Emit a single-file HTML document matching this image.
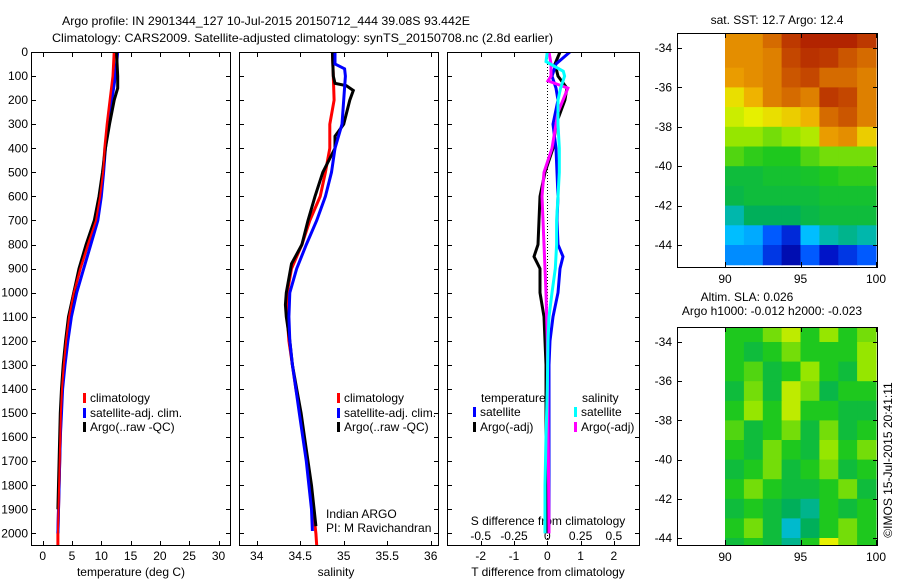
<!DOCTYPE html>
<html><head><meta charset="utf-8"><style>
body{margin:0;background:#fff;width:900px;height:580px;overflow:hidden}
svg text{font-family:"Liberation Sans",sans-serif;font-size:12px;fill:#000}
</style></head><body>
<svg id="fig" width="900" height="580" viewBox="0 0 900 580" xmlns="http://www.w3.org/2000/svg">
<defs>
<clipPath id="c1"><rect x="31" y="52" width="200" height="494"/></clipPath>
<clipPath id="c2"><rect x="239" y="52" width="200" height="494"/></clipPath>
<clipPath id="c3"><rect x="447" y="52" width="193" height="494"/></clipPath>
<clipPath id="cm1"><rect x="677" y="33" width="201" height="234"/></clipPath>
<clipPath id="cm2"><rect x="677" y="327" width="201" height="218"/></clipPath>
</defs>
<text x="62" y="25" font-size="13.5" textLength="408" lengthAdjust="spacingAndGlyphs">Argo profile: IN 2901344_127 10-Jul-2015 20150712_444 39.08S 93.442E</text>
<text x="52" y="42" font-size="13.5" textLength="501" lengthAdjust="spacingAndGlyphs">Climatology: CARS2009. Satellite-adjusted climatology: synTS_20150708.nc (2.8d earlier)</text>
<text x="777" y="24" text-anchor="middle">sat. SST: 12.7 Argo: 12.4</text>
<text x="747" y="301" text-anchor="middle">Altim. SLA: 0.026</text>
<text x="772" y="315" text-anchor="middle">Argo h1000: -0.012 h2000: -0.023</text>
<text transform="translate(892,460) rotate(-90)" text-anchor="middle">©IMOS 15-Jul-2015 20:41:11</text>
<g id="g"></g>
</svg>
<script>
// ---- data ----
const depthsT = [0,100,200,300,400,500,600,700,800,900,1000,1100,1200,1300,1400,1500,1600,1700,1800,1900,2000,2050];
const tempClim = [12.2,12.0,11.5,11.0,10.6,10.3,9.8,9.1,7.7,6.4,5.3,4.5,4.0,3.6,3.3,3.1,3.0,2.9,2.8,2.7,2.6,2.6];
const depthsTs = [0,100,200,300,400,500,600,700,800,900,1000,1100,1200,1300,1400,1500,1600,1700,1800,1900,2000];
const tempSat = [12.8,12.4,11.8,11.2,10.7,10.4,10.0,9.4,8.2,7.0,5.8,4.9,4.3,3.8,3.4,3.2,3.0,2.9,2.8,2.7,2.6];
const depthsTa = [0,100,150,200,300,400,500,600,700,800,900,1000,1100,1200,1300,1400,1500,1600,1700,1800,1900];
const tempArgo = [12.6,12.8,12.8,12.2,11.4,10.7,10.2,9.6,8.8,7.4,6.2,5.3,4.4,3.9,3.5,3.2,3.0,2.9,2.8,2.7,2.6];

const depthsS = [0,100,200,300,400,500,600,700,800,900,1000,1100,1200,1300,1400,1500,1600,1700,1800,1900,2000,2050];
const salClim = [34.87,34.88,34.89,34.84,34.84,34.79,34.73,34.61,34.52,34.40,34.35,34.35,34.37,34.41,34.45,34.50,34.54,34.58,34.62,34.65,34.68,34.69];
const depthsSs = [0,50,70,100,200,300,400,500,600,700,800,900,1000,1100,1200,1300,1400,1500,1600,1700,1800,1900,1990];
const salSat = [34.90,34.90,35.01,35.02,35.00,34.98,34.90,34.86,34.79,34.69,34.57,34.46,34.38,34.37,34.38,34.41,34.45,34.49,34.53,34.57,34.60,34.63,34.64];
const depthsSa = [0,100,130,140,160,200,300,350,400,500,600,700,800,880,1000,1050,1100,1200,1300,1400,1500,1600,1700,1800,1900,1970];
const salArgo = [34.87,34.88,34.90,35.03,35.11,35.07,35.00,34.90,34.90,34.76,34.67,34.59,34.52,34.40,34.34,34.33,34.34,34.38,34.41,34.46,34.51,34.55,34.59,34.63,34.66,34.68];

const depthsD = [0,50,100,150,200,300,400,500,600,700,800,850,900,1000,1100,1200,1300,1500,2000];
const dTsat = [0.68,0.26,0.14,0.26,0.32,0.17,0.26,0.29,0.32,0.29,0.32,0.47,0.38,0.32,0.17,0.08,0.05,0.05,0.05];
const dTargo = [0.38,0.23,0.32,0.59,0.53,0.26,0.17,-0.07,-0.22,-0.25,-0.28,-0.40,-0.22,-0.22,-0.10,-0.07,-0.04,-0.04,-0.04];
const depthsDS = [0,40,80,100,150,200,300,400,500,600,700,800,900,1000,1100,1200,1400,1600,1800,2000];
const dSsat = [0.0,-0.01,0.12,0.13,0.10,0.08,0.08,0.09,0.09,0.08,0.07,0.07,0.06,0.035,0.013,0.005,0.0,-0.01,-0.017,-0.017];
const depthsDM = [0,50,100,120,150,200,250,300,400,500,600,700,800,900,1000,1200,1500,2000];
const dSargo = [0.013,0.028,0.028,0.005,0.155,0.118,0.08,0.065,0.035,-0.025,-0.04,-0.032,-0.025,-0.017,-0.01,0.0,0.005,0.013];

const tTicks = [0,5,10,15,20,25,30];
const sTicks = [34,34.5,35,35.5,36];
const dTTicks = [-2,-1,0,1,2];
const dSTicks = [-0.5,-0.25,0,0.25,0.5];
const dSTickLabels = ["-0.5","-0.25","0","0.25","0.5"];
const depthTicks = [0,100,200,300,400,500,600,700,800,900,1000,1100,1200,1300,1400,1500,1600,1700,1800,1900,2000];
const lonTicks = [90,95,100];
const latTicks = [-34,-36,-38,-40,-42,-44];

// SST grid rows from -33 to -45 (1 deg), cols 90..100 (1.25 deg), colour index 0..1
const sstGrid = [
[0.80,0.80,0.85,0.92,0.95,0.95,0.95,0.92],
[0.80,0.80,0.82,0.90,0.93,0.92,0.88,0.85],
[0.78,0.80,0.82,0.88,0.90,0.85,0.85,0.82],
[0.70,0.75,0.82,0.85,0.82,0.92,0.90,0.82],
[0.66,0.68,0.70,0.72,0.75,0.85,0.88,0.82],
[0.62,0.62,0.60,0.62,0.64,0.78,0.80,0.72],
[0.58,0.56,0.55,0.55,0.58,0.60,0.60,0.60],
[0.50,0.50,0.52,0.52,0.53,0.55,0.56,0.56],
[0.48,0.50,0.50,0.50,0.50,0.52,0.52,0.52],
[0.40,0.45,0.45,0.45,0.48,0.50,0.50,0.50],
[0.35,0.33,0.25,0.18,0.35,0.40,0.42,0.40],
[0.30,0.30,0.20,0.10,0.25,0.15,0.20,0.25]];
const slaGrid = [
[0.55,0.55,0.60,0.65,0.55,0.62,0.55,0.60],
[0.55,0.50,0.55,0.60,0.55,0.55,0.55,0.62],
[0.55,0.58,0.50,0.55,0.62,0.55,0.50,0.62],
[0.50,0.60,0.50,0.65,0.60,0.48,0.55,0.55],
[0.55,0.62,0.55,0.65,0.55,0.55,0.50,0.50],
[0.58,0.50,0.55,0.60,0.50,0.60,0.50,0.55],
[0.55,0.50,0.60,0.55,0.50,0.62,0.55,0.60],
[0.50,0.55,0.60,0.50,0.55,0.60,0.50,0.55],
[0.55,0.60,0.55,0.50,0.50,0.55,0.60,0.50],
[0.50,0.55,0.50,0.45,0.42,0.55,0.50,0.55],
[0.55,0.60,0.50,0.38,0.45,0.55,0.60,0.55],
[0.50,0.55,0.50,0.42,0.55,0.68,0.60,0.55]];

// ---- scales ----
const NS='http://www.w3.org/2000/svg';
const G=document.getElementById('g');
function mk(tag,attrs,parent){const e=document.createElementNS(NS,tag);for(const k in attrs)e.setAttribute(k,attrs[k]);(parent||G).appendChild(e);return e;}
const yD = d => 52 + d*0.2407;
const xT = t => 42.7 + t*5.86;
const xS = s => 256.7 + (s-34)*87;
const xDT = v => 547.3 + v*33.3;
const xDS = v => 547.3 + v*133.2;
const xLon = l => 725 + (l-90)*15.1;
const yLat1 = l => 48 + (-34-l)*19.7;
const yLat2 = l => 342 + (-34-l)*19.6;

function line(xs,ys,xf,color,w,clip,name){
  const pts=xs.map((v,i)=>xf(v).toFixed(1)+','+yD(ys[i]).toFixed(1)).join(' ');
  const p=mk('polyline',{points:pts,fill:'none',stroke:color,'stroke-width':w,'stroke-linejoin':'miter','clip-path':'url(#'+clip+')'});
  
  
}
function box(x,y,w,h,name){
  const r=mk('rect',{x:x,y:y,width:w,height:h,fill:'none',stroke:'#000','stroke-width':1});
  
  
}
function txt(x,y,s,anchor,name){
  const t=mk('text',{x:x,y:y,'text-anchor':anchor||'start'});t.textContent=s;
  
  
  return t;
}
function tick(x1,y1,x2,y2){mk('line',{x1:x1,y1:y1,x2:x2,y2:y2,stroke:'#000','stroke-width':1});}

// ---- profile panels ----
const panels=[[31,231],[239,439],[447,640]];
panels.forEach((p,i)=>{
  depthTicks.forEach(d=>{const y=Math.round(yD(d))+0.5;tick(p[0],y,p[0]+5,y);tick(p[1]-5,y,p[1],y);});
});
depthTicks.forEach(d=>txt(28,yD(d)+4,String(d),'end','depth-tick-label'));
tTicks.forEach(t=>{const x=Math.round(xT(t))+0.5;tick(x,52,x,57);tick(x,546,x,541);txt(xT(t),560,String(t),'middle','temp-tick-label');});
sTicks.forEach(s=>{const x=Math.round(xS(s))+0.5;tick(x,52,x,57);tick(x,546,x,541);txt(xS(s),560,String(s),'middle','sal-tick-label');});
dTTicks.forEach(v=>{const x=Math.round(xDT(v))+0.5;tick(x,52,x,57);tick(x,546,x,541);txt(xDT(v),560,String(v),'middle','tdiff-tick-label');});
dSTicks.forEach((v,i)=>txt(xDS(v),540,dSTickLabels[i],'middle','sdiff-tick-label'));
txt(131,576,'temperature (deg C)','middle','x-axis-title-temperature');
txt(336,576,'salinity','middle','x-axis-title-salinity');
txt(548,576,'T difference from climatology','middle','x-axis-title-tdiff');
txt(548,525,'S difference from climatology','middle','axis-title-sdiff');
// zero line
const zl=mk('line',{x1:547.5,y1:52,x2:547.5,y2:546,stroke:'#000','stroke-width':1,'stroke-dasharray':'1,2'});



line(tempClim,depthsT,xT,'#f00',3,'c1','temp-climatology-line');
line(tempSat,depthsTs,xT,'#00f',3,'c1','temp-satellite-line');
line(tempArgo,depthsTa,xT,'#000',3,'c1','temp-argo-line');
line(tempClim,depthsT,xT,'#f00',2,'c1','temp-climatology-line-top');
line(salClim,depthsS,xS,'#f00',3,'c2','sal-climatology-line');
line(salArgo,depthsSa,xS,'#000',3,'c2','sal-argo-line');
line(salSat,depthsSs,xS,'#00f',3,'c2','sal-satellite-line');
line(dTargo,depthsD,xDT,'#000',3,'c3','tdiff-argo-line');
line(dTsat,depthsD,xDT,'#00f',3,'c3','tdiff-satellite-line');
line(dSargo,depthsDM,xDS,'#f0f',3,'c3','sdiff-argo-line');
line(dSsat,depthsDS,xDS,'#0ff',3,'c3','sdiff-satellite-line');

box(31.5,52.5,199,493,'temperature-panel');
box(239.5,52.5,199,493,'salinity-panel');
box(447.5,52.5,192,493,'difference-panel');

// legends
function legItem(x,y,color,label,name){
  const r=mk('rect',{x:x,y:y-9,width:3,height:10,fill:color});
  
  
  txt(x+7,y,label,'start',name);
}
[[83,'temp'],[337,'sal']].forEach(([x,n])=>{
  legItem(x,402,'#f00','climatology',n+'-legend-climatology');
  legItem(x,417,'#00f','satellite-adj. clim.',n+'-legend-satellite');
  legItem(x,431,'#000','Argo(..raw -QC)',n+'-legend-argo');
});
txt(326,518,'Indian ARGO','start','institution-label');
txt(326,532,'PI: M Ravichandran','start','pi-label');
txt(481,402,'temperature','start','legend-temperature-heading');
legItem(473,416,'#00f','satellite','legend-tdiff-satellite');
legItem(473,431,'#000','Argo(-adj)','legend-tdiff-argo');
txt(582,402,'salinity','start','legend-salinity-heading');
legItem(574,416,'#0ff','satellite','legend-sdiff-satellite');
legItem(574,431,'#f0f','Argo(-adj)','legend-sdiff-argo');

// ---- maps ----
const stops=[[0,[0,0,130]],[0.15,[0,20,200]],[0.25,[0,90,255]],[0.35,[0,190,255]],[0.45,[0,175,90]],[0.55,[30,200,30]],[0.62,[150,230,0]],[0.68,[230,240,0]],[0.76,[240,170,0]],[0.86,[210,100,0]],[1,[160,0,0]]];
function col(v){
  for(let i=1;i<stops.length;i++){if(v<=stops[i][0]){const a=stops[i-1],b=stops[i];const f=(v-a[0])/(b[0]-a[0]);
    return 'rgb('+a[1].map((c,k)=>Math.round(c+(b[1][k]-c)*f)).join(',')+')';}}
  return 'rgb(160,0,0)';
}
function map(grid,yl,clip,name){
  grid.forEach((row,r)=>row.forEach((v,c)=>{
    const x0=xLon(90+c*1.25),x1=xLon(90+(c+1)*1.25),y0=yl(-33-r),y1=yl(-34-r);
    const e=mk('rect',{x:x0.toFixed(1),y:y0.toFixed(1),width:(x1-x0+0.6).toFixed(1),height:(y1-y0+0.6).toFixed(1),fill:col(v),'clip-path':'url(#'+clip+')'});
    
    
  }));
}
map(sstGrid,yLat1,'cm1','sst-map');
map(slaGrid,yLat2,'cm2','sla-map');
[[33,267,yLat1,'sst'],[327,545,yLat2,'sla']].forEach(([t,b,yl,n])=>{
  box(677.5,t+0.5,200,b-t,n+'-map-frame');
  latTicks.forEach(l=>{const y=Math.round(yl(l))+0.5;tick(677,y,682,y);tick(873,y,878,y);txt(672,yl(l)+4,String(l),'end',n+'-lat-label');});
  lonTicks.forEach(l=>{const x=Math.round(xLon(l))+0.5;tick(x,t,x,t+5);tick(x,b,x,b-5);txt(xLon(l),b+16,String(l),'middle',n+'-lon-label');});
});
</script>
</body></html>
